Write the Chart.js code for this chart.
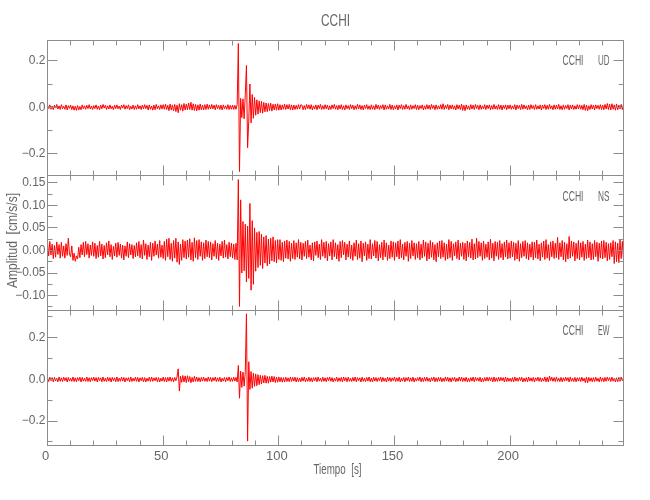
<!DOCTYPE html>
<html>
<head>
<meta charset="utf-8">
<title>CCHI</title>
<script src="https://cdn.jsdelivr.net/npm/chart.js@4.4.0/dist/chart.umd.min.js"></script>
<style>
  html, body { margin: 0; padding: 0; background: #fff; }
  #wrap { position: relative; width: 650px; height: 500px; }
</style>
</head>
<body>
<div id="wrap"><canvas id="seis" width="650" height="500"></canvas></div>
<script>
// Station and components
const station = 'CCHI';
const components = ['UD', 'NS', 'EW'];
const sampleStep = 0.5; // seconds between the samples

// Amplitudes in 0.001 cm/s/s, one every 0.5 s from t = 0 (one line = 10 s)
const udMilli = [
  8,-6,10,-9,5,-11,9,-4,12,-8,6,-10,11,-7,4,-9,10,-12,7,-5,
  9,-10,6,-13,4,-14,7,-12,3,-11,10,-7,6,-9,8,-6,11,-8,5,-10,
  7,-6,10,-9,5,-11,9,-7,12,-4,8,-10,6,-8,10,-7,4,-11,9,-6,
  10,-7,5,-10,9,-4,11,-9,7,-6,10,-11,4,-8,9,-10,6,-9,11,-7,
  6,-10,9,-7,11,-6,8,-12,10,-9,5,-13,9,-11,12,-7,6,-10,10,-8,
  11,-9,13,-10,8,-15,14,-12,10,-16,12,-19,9,-24,15,-13,11,-17,16,-12,
  13,-11,18,-10,21,-13,15,-14,12,-16,10,-13,14,-11,9,-12,11,-10,13,-9,
  10,-8,12,-7,9,-11,11,-6,8,-10,9,-12,10,-7,6,-9,11,-10,8,-9,
  9,-10,8,-9,12,275,-278,38,-45,36,-50,55,180,-175,-60,100,-68,55,-48,42,
  -35,32,-30,27,-24,25,-26,21,-20,18,-19,16,-15,17,-17,13,-12,14,-13,15,
  -13,11,-12,10,-9,13,-10,11,-8,12,-11,10,-12,9,-10,8,-9,11,-8,10,
  9,-11,7,-10,12,-6,10,-9,11,-12,6,-8,10,-11,9,-6,12,-10,7,-9,
  11,-7,9,-12,6,-10,10,-6,12,-9,7,-11,9,-8,11,-10,6,-12,10,-7,
  7,-10,11,-6,9,-11,6,-9,12,-8,10,-10,7,-12,9,-6,11,-9,6,-10,
  10,-9,6,-11,12,-7,9,-10,7,-6,11,-12,10,-9,6,-8,12,-10,9,-11,
  6,-8,10,-12,9,-6,11,-10,7,-9,12,-7,6,-11,10,-9,7,-6,11,-10,
  9,-11,7,-6,10,-12,6,-9,11,-8,9,-10,12,-6,8,-11,10,-9,6,-8,
  11,-9,15,-10,8,-6,12,-11,9,-7,10,-9,6,-12,11,-8,9,-10,13,-14,
  8,-15,10,-9,6,-11,11,-8,9,-10,12,-6,8,-11,10,-9,6,-8,11,-10,
  9,-6,10,-11,7,-9,12,-8,6,-10,11,-9,9,-12,8,-6,10,-11,9,-7,
  10,-9,6,-8,11,-12,9,-6,8,-10,12,-9,10,-7,6,-11,9,-10,11,-6,
  7,-10,11,-9,6,-8,10,-12,9,-6,11,-10,8,-9,12,-7,6,-11,10,-9,
  9,-8,12,-10,6,-11,10,-9,7,-6,11,-12,9,-8,10,-10,6,-9,11,-7,
  10,-9,8,-11,12,-14,9,-15,6,-10,11,-8,9,-12,10,-6,8,-9,11,-10,
  9,-11,12,-8,16,-10,13,-12,15,-9,10,-13,14,-11,9,-8,12,-10,11,-9
];

const nsMilli = [
  16,-12,20,-10,14,-18,11,-15,19,-9,13,-17,18,-13,10,-17,15,-11,27,-8,
  -14,10,-22,-6,-24,-12,-19,7,-16,13,-10,18,-14,20,-9,15,-17,12,-11,19,
  -13,16,-18,11,-15,20,-12,14,-19,11,-16,17,-10,21,-14,13,-20,9,-12,16,
  -15,18,-11,14,-17,12,-21,10,-13,19,-16,15,-10,13,-18,11,-14,17,-12,20,
  -16,13,-19,23,-11,15,-20,12,-14,18,-22,16,-13,21,-10,14,-17,22,-15,12,
  -18,20,-22,25,-14,27,-20,16,-24,22,-17,27,-26,19,-31,14,-22,24,-16,21,
  -19,23,-15,26,-21,18,-24,28,-16,22,-20,24,-13,19,-22,17,-18,23,-14,20,
  -16,19,-21,15,-13,22,-18,16,-22,14,-12,20,-17,23,-15,13,-19,18,-14,16,
  -17,14,-20,16,-21,157,-124,112,-50,64,-45,58,-70,54,-62,104,-88,66,-75,50,
  -46,40,-38,42,-33,36,-40,30,-28,33,-34,25,-30,27,-23,30,-25,22,-28,24,
  -20,24,-22,18,-25,21,-17,23,-19,20,-24,16,-18,22,-20,17,-15,24,-19,18,
  -21,16,-13,20,-18,23,-15,12,-21,17,-23,19,-11,21,-16,14,-20,24,-13,18,
  -17,20,-23,15,-12,19,-21,24,-14,17,-19,13,-24,20,-16,22,-10,18,-21,14,
  -15,21,-18,12,-22,17,-13,23,-20,15,-17,21,-25,16,-12,19,-22,14,-18,24,
  -19,15,-12,22,-17,20,-23,13,-16,18,-21,23,-14,17,-22,12,-18,21,-15,19,
  -22,17,-14,21,-19,24,-16,14,-21,18,-13,20,-24,16,-18,22,-12,17,-20,15,
  -16,20,-21,14,-17,23,-13,19,-23,16,-19,22,-15,18,-21,13,-25,17,-14,21,
  -18,22,-15,17,-22,14,-19,24,-16,20,-22,15,-12,19,-18,23,-21,16,-13,18,
  -20,16,-23,21,-14,18,-17,25,-21,15,-19,27,-16,20,-13,17,-22,21,-18,14,
  -15,19,-21,25,-17,16,-23,20,-13,18,-20,22,-16,15,-21,19,-14,23,-19,17,
  -17,21,-14,18,-22,16,-19,22,-24,15,-16,20,-13,22,-18,17,-21,14,-15,19,
  -21,18,-16,23,-19,14,-23,17,-15,21,-20,24,-17,13,-22,19,-14,21,-18,16,
  -16,29,-20,17,-14,22,-21,18,-25,15,-19,31,-17,21,-13,19,-23,16,-18,22,
  -21,17,-15,20,-22,14,-18,23,-16,19,-21,15,-20,22,-14,18,-24,16,-17,21,
  -19,22,-16,18,-23,15,-20,17,-14,22,-29,19,-25,16,-27,23,-18,20,-22,17
];

const ewMilli = [
  8,-10,11,-6,9,-12,10,-7,6,-11,12,-9,8,-10,11,-6,9,-12,10,-8,
  6,-9,12,-10,8,-11,9,-6,11,-12,10,-8,6,-9,12,-10,8,-11,9,-6,
  11,-8,9,-12,10,-6,8,-11,12,-9,6,-10,11,-8,9,-12,10,-6,8,-11,
  12,-10,6,-9,11,-8,10,-12,8,-6,9,-11,12,-10,6,-8,11,-9,10,-12,
  8,-6,10,-11,9,-12,6,-8,11,-10,12,-9,8,-6,10,-11,9,-12,6,-8,
  11,-10,9,-12,10,-8,12,-9,8,-11,10,-6,12,51,-56,16,-14,19,-12,17,
  -15,18,-11,14,-16,10,-12,15,-9,12,-10,9,-11,10,-8,11,-9,7,-10,12,
  -8,10,-11,9,-6,12,-10,8,-9,11,-12,6,-8,10,-11,9,-6,12,-10,8,
  -9,11,-8,10,-12,67,-90,40,-38,35,-32,37,315,-296,85,-48,38,-42,30,-33,
  27,-30,23,-25,20,-22,18,-17,20,-18,15,-18,14,-13,16,-12,14,-15,11,-13,
  12,-11,10,-13,9,-12,11,-10,8,-11,12,-9,10,-8,11,-12,9,-10,7,-11,
  10,-8,12,-11,6,-9,11,-10,8,-12,9,-6,10,-11,12,-8,6,-10,11,-9,
  8,-11,10,-6,12,-9,9,-12,6,-8,11,-10,8,-9,10,-12,12,-6,9,-11,
  11,-9,6,-10,10,-8,12,-11,9,-6,8,-12,11,-9,6,-10,10,-8,12,-11,
  6,-12,11,-8,9,-10,8,-6,12,-11,10,-9,6,-12,11,-8,9,-10,8,-6,
  12,-10,8,-9,11,-12,6,-8,10,-11,9,-6,12,-10,8,-9,11,-12,6,-8,
  9,-6,12,-11,8,-10,10,-8,11,-9,6,-12,9,-6,12,-11,8,-10,10,-8,
  10,-11,6,-9,12,-8,11,-10,8,-12,9,-6,10,-11,6,-9,12,-8,11,-10,
  8,-9,11,-12,6,-10,9,-8,12,-11,10,-6,8,-9,11,-12,6,-10,9,-8,
  11,-8,10,-6,9,-12,12,-10,8,-9,11,-8,10,-6,9,-12,12,-10,8,-9,
  6,-10,9,-11,12,-8,8,-9,10,-6,11,-12,6,-10,9,-11,12,-8,8,-9,
  10,-12,8,-6,11,-9,9,-10,6,-8,12,-11,10,-12,16,-6,11,-9,9,-10,
  12,-9,6,-10,10,-11,8,-8,11,-6,9,-12,12,-9,6,-10,10,-11,8,-8,
  9,-10,11,-8,6,-15,12,-16,10,-9,8,-11,9,-10,11,-8,6,-12,12,-9,
  8,-11,10,-9,12,-6,9,-10,11,-8,6,-12,8,-11,10,-9,12,-6,9,-10
];

// Axes
const timeRange = [0, 249];
const timeTicks = [0, 50, 100, 150, 200];
const timeMinor = [10, 20, 30, 40, 60, 70, 80, 90, 110, 120, 130, 140, 160, 170, 180, 190, 210, 220, 230, 240];

const udRange = [-0.295, 0.288];
const udTicks = [-0.2, 0.0, 0.2];
const udMinor = [-0.1, 0.1];

const nsRange = [-0.133, 0.166];
const nsTicks = [-0.10, -0.05, 0.00, 0.05, 0.10, 0.15];
const nsMinor = [-0.125, -0.075, -0.025, 0.025, 0.075, 0.125];

const ewRange = [-0.317, 0.331];
const ewTicks = [-0.2, 0.0, 0.2];
const ewMinor = [-0.3, -0.1, 0.1, 0.3];

const AXIS_GREY = '#8c8c8c';
const TEXT_GREY = '#666666';
const FONT = "'Liberation Sans Narrow', 'Liberation Sans', Arial, sans-serif";

const panels = [
  { id: 'ud', comp: components[0], data: udMilli, ticks: udTicks, minor: udMinor, labelY: 61 },
  { id: 'ns', comp: components[1], data: nsMilli, ticks: nsTicks, minor: nsMinor, labelY: 197 },
  { id: 'ew', comp: components[2], data: ewMilli, ticks: ewTicks, minor: ewMinor, labelY: 331.5 }
];

function toPoints(arr) {
  return arr.map((mv, i) => ({ x: i * sampleStep, y: mv / 1000 }));
}

function fmt(v, decimals) {
  if (Math.abs(v) < 1e-9) v = 0;
  const s = Math.abs(v).toFixed(decimals);
  return v < 0 ? '\u2212' + s : s;
}

// text squeezed to a target width, like the narrow plot font
function narrowText(ctx, text, x, y, size, width, align, rotate) {
  ctx.save();
  ctx.font = '300 ' + size + 'px ' + FONT;
  ctx.fillStyle = TEXT_GREY;
  ctx.textBaseline = 'middle';
  ctx.textAlign = align;
  ctx.translate(x, y);
  if (rotate) ctx.rotate(-Math.PI / 2);
  const sx = width / ctx.measureText(text).width;
  ctx.scale(sx, 1);
  ctx.fillText(text, 0, 0);
  ctx.restore();
}

function ampAxis(range, ticks, decimals) {
  return {
    type: 'linear',
    position: 'left',
    stack: 'cchi',
    stackWeight: 1,
    min: range[0],
    max: range[1],
    afterBuildTicks: s => { s.ticks = ticks.map(v => ({ value: v })); },
    afterFit: s => { s.width = 47.5; },
    grid: { display: false, drawTicks: false, tickLength: 0 },
    border: { display: false },
    ticks: {
      autoSkip: false,
      padding: 2,
      color: TEXT_GREY,
      font: { family: FONT, size: 12 },
      callback: v => fmt(v, decimals)
    }
  };
}

// IDL style boxes with inward ticks on all four sides
const panelFrame = {
  id: 'panelFrame',
  afterDraw(chart) {
    const ctx = chart.ctx;
    const area = chart.chartArea;
    const xs = chart.scales.x;
    ctx.save();
    ctx.strokeStyle = AXIS_GREY;
    ctx.lineWidth = 1;
    panels.forEach(p => {
      const ys = chart.scales[p.id];
      const top = Math.floor(ys.top) + 0.5;
      const bottom = Math.floor(ys.bottom) + 0.5;
      ctx.strokeRect(area.left, top, area.right - area.left, bottom - top);
      ctx.beginPath();
      timeTicks.concat(timeMinor).forEach(t => {
        const len = timeTicks.includes(t) ? 10 : 5;
        const px = Math.floor(xs.getPixelForValue(t)) + 0.5;
        ctx.moveTo(px, bottom); ctx.lineTo(px, bottom - len);
        ctx.moveTo(px, top); ctx.lineTo(px, top + len);
      });
      p.ticks.concat(p.minor).forEach(v => {
        const len = p.ticks.includes(v) ? 10 : 5;
        const py = Math.floor(ys.getPixelForValue(v)) + 0.5;
        ctx.moveTo(area.left, py); ctx.lineTo(area.left + len, py);
        ctx.moveTo(area.right, py); ctx.lineTo(area.right - len, py);
      });
      ctx.stroke();
      narrowText(ctx, station, 562.5, p.labelY, 14, 21, 'left');
      narrowText(ctx, p.comp, 609.5, p.labelY, 14, 11.5, 'right');
    });
    ctx.restore();

    narrowText(ctx, station, 335.5, 21.5, 17, 29, 'center');
    narrowText(ctx, 'Tiempo  [s]', 337.5, 470, 14, 48, 'center');
    narrowText(ctx, 'Amplitud  [cm/s/s]', 13.5, 240.5, 14, 95, 'center', true);
  }
};

const datasets = panels.map(p => ({
  label: station + ' ' + p.comp,
  data: toPoints(p.data),
  yAxisID: p.id,
  borderColor: '#ff0000',
  borderWidth: 1,
  pointRadius: 0,
  tension: 0,
  fill: false
}));

new Chart(document.getElementById('seis'), {
  type: 'line',
  data: { datasets: datasets },
  options: {
    responsive: false,
    animation: false,
    events: [],
    layout: { padding: { top: 40.5, right: 26.5, bottom: 0, left: 0 } },
    plugins: { legend: { display: false }, tooltip: { enabled: false }, title: { display: false } },
    scales: {
      x: {
        type: 'linear',
        position: 'bottom',
        min: timeRange[0],
        max: timeRange[1],
        afterBuildTicks: s => { s.ticks = timeTicks.map(v => ({ value: v })); },
        afterFit: s => { s.height = 54.5; },
        grid: { display: false, drawTicks: false, tickLength: 0 },
        border: { display: false },
        ticks: { padding: 3, labelOffset: -2, color: TEXT_GREY, maxRotation: 0, font: { family: FONT, size: 13 } }
      },
      ew: ampAxis(ewRange, ewTicks, 1),
      ns: ampAxis(nsRange, nsTicks, 2),
      ud: ampAxis(udRange, udTicks, 1)
    }
  },
  plugins: [panelFrame]
});
</script>
</body>
</html>
